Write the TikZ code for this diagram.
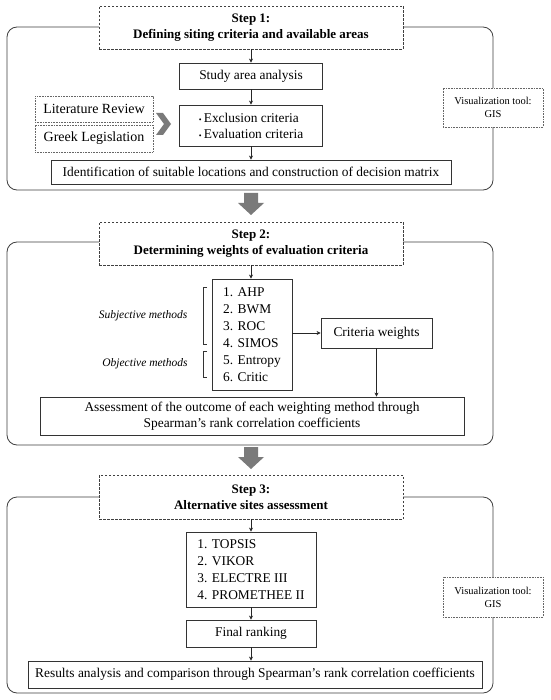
\documentclass[tikz,border=0pt]{standalone}
\usepackage{fontspec}
\setmainfont{Liberation Serif}
\usetikzlibrary{arrows.meta}
\newcommand{\bul}{{\fontsize{8}{8}\selectfont\textbullet}\,}
\begin{document}
\begin{tikzpicture}[x=1pt,y=-1pt,
  every node/.style={font=\fontsize{13.4}{16}\selectfont, inner sep=0pt, align=center},
  sbox/.style={draw=black!80, line width=0.8pt, fill=white},
  titlebox/.style={draw=black!75, dashed, dash pattern=on 2.5pt off 1.5pt, line width=0.8pt, fill=white, font=\fontsize{13}{16}\selectfont\bfseries},
  dotbox/.style={draw=black!60, dash pattern=on 0.8pt off 0.8pt, line width=0.6pt, fill=white},
  vizbox/.style={dotbox, font=\fontsize{10.5}{13}\selectfont},
  frame/.style={draw=black!75, line width=0.8pt, rounded corners=10pt},
  arr/.style={-{Stealth[length=4pt,width=4pt]}, line width=0.6pt, draw=black!85},
  grayfill/.style={fill=black!52, draw=none},
  sidelabel/.style={font=\fontsize{11.5}{13}\selectfont\itshape},
  bracket/.style={draw=black!80, line width=0.6pt},
  listfont/.style={align=left, font=\fontsize{13.4}{17}\selectfont},
]
\useasboundingbox[fill=white] (0,0) rectangle (550,700);

% ---------------- Step 1 ----------------
\draw[frame] (7,27) rectangle (493,190);
\node[titlebox, minimum width=304pt, minimum height=43pt] (t1) at (251,27.5) {Step 1:\\Defining siting criteria and available areas};
\node[sbox, minimum width=143pt, minimum height=26pt] (study) at (251,76) {Study area analysis};
\node[sbox, minimum width=143pt, minimum height=41pt, align=left] (excl) at (251,125.5) {\bul Exclusion criteria\\\bul Evaluation criteria};
\node[dotbox, minimum width=118pt, minimum height=26pt, font=\fontsize{14}{16}\selectfont] (lit) at (94,109) {Literature Review};
\node[dotbox, minimum width=118pt, minimum height=27pt, font=\fontsize{14}{16}\selectfont] (greek) at (94,138.5) {Greek Legislation};
\fill[grayfill] (156,113) -- (163,113) -- (171,124) -- (163,135) -- (156,135) -- (164,124) -- cycle;
\node[sbox, minimum width=400pt, minimum height=24pt] (ident) at (251,172) {Identification of suitable locations and construction of decision matrix};
\node[vizbox, minimum width=100pt, minimum height=39pt] (viz1) at (493,107.5) {Visualization tool:\\GIS};
\draw[arr] (t1.south) -- (study.north);
\draw[arr] (study.south) -- (excl.north);
\draw[arr] (excl.south) -- (ident.north);

% gray arrow 1
\fill[grayfill] (244,193) -- (258,193) -- (258,203) -- (264,203) -- (251,215) -- (238,203) -- (244,203) -- cycle;

% ---------------- Step 2 ----------------
\draw[frame] (7,242) rectangle (493,445);
\node[titlebox, minimum width=304pt, minimum height=43pt] (t2) at (251,243.5) {Step 2:\\Determining weights of evaluation criteria};
\node[sbox, minimum width=80pt, minimum height=111pt, listfont] (meth) at (252,334.5) {1. AHP\\2. BWM\\3. ROC\\4. SIMOS\\5. Entropy\\6. Critic};
\node[sbox, minimum width=111pt, minimum height=30pt] (crit) at (376.5,333) {Criteria weights};
\node[sbox, minimum width=424pt, minimum height=38pt] (assess) at (252,416) {Assessment of the outcome of each weighting method through\\Spearman's rank correlation coefficients};
\draw[arr] (t2.south) -- (meth.north -| t2.south);
\draw[arr] (meth.east |- crit.west) -- (crit.west);
\draw[arr] (crit.south) -- (crit.south |- assess.north);
\draw[bracket] (207,287) -- (203,287) -- (203,344) -- (207,344);
\draw[bracket] (207,351) -- (203,351) -- (203,377) -- (207,377);
\node[sidelabel] (subj) at (143,316) {Subjective methods};
\node[sidelabel] (obj) at (145,364) {Objective methods};

% gray arrow 2
\fill[grayfill] (244,447) -- (258,447) -- (258,457) -- (264,457) -- (251,469) -- (238,457) -- (244,457) -- cycle;

% ---------------- Step 3 ----------------
\draw[frame] (7,497) rectangle (493,693);
\node[titlebox, minimum width=304pt, minimum height=44pt] (t3) at (251,497) {Step 3:\\Alternative sites assessment};
\node[sbox, minimum width=130pt, minimum height=75pt, listfont] (meth3) at (251,569.5) {1. TOPSIS\\2. VIKOR\\3. ELECTRE III\\4. PROMETHEE II};
\node[sbox, minimum width=130pt, minimum height=27pt] (final) at (251,633.5) {Final ranking};
\node[sbox, minimum width=454pt, minimum height=27pt] (res) at (255,674.5) {Results analysis and comparison through Spearman's rank correlation coefficients};
\node[vizbox, minimum width=100pt, minimum height=40pt] (viz3) at (493,597) {Visualization tool:\\GIS};
\draw[arr] (t3.south) -- (meth3.north);
\draw[arr] (meth3.south) -- (final.north);
\draw[arr] (final.south) -- (final.south |- res.north);
\end{tikzpicture}
\end{document}
